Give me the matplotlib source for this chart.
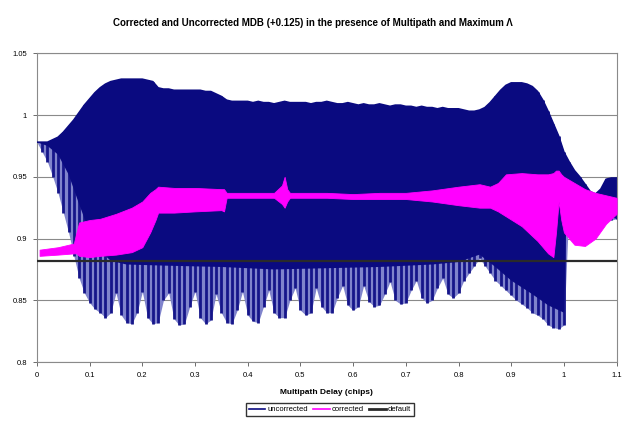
import numpy as np
import matplotlib.pyplot as plt
from matplotlib.lines import Line2D

plt.rcParams["font.family"] = ["Liberation Sans", "DejaVu Sans"]

# uncorrected MDB, read every 0.01 chip: top and bottom of the oscillation
unc_x = np.round(np.arange(0, 1.105, 0.01), 2)
unc_hi = [0.978, 0.978, 0.978, 0.980, 0.982, 0.986, 0.991, 0.996, 1.002, 1.008,
          1.013, 1.018, 1.022, 1.025, 1.027, 1.028, 1.029, 1.029, 1.029, 1.029,
          1.029, 1.028, 1.027, 1.022, 1.021, 1.021, 1.020, 1.020, 1.020, 1.020,
          1.020, 1.020, 1.019, 1.019, 1.017, 1.015, 1.012, 1.011, 1.011, 1.011,
          1.011, 1.010, 1.011, 1.010, 1.010, 1.009, 1.010, 1.011, 1.010, 1.010,
          1.010, 1.010, 1.009, 1.010, 1.010, 1.011, 1.010, 1.009, 1.009, 1.010,
          1.009, 1.008, 1.009, 1.008, 1.008, 1.009, 1.008, 1.007, 1.008, 1.008,
          1.007, 1.007, 1.006, 1.007, 1.006, 1.006, 1.005, 1.006, 1.005, 1.005,
          1.005, 1.004, 1.003, 1.003, 1.004, 1.006, 1.010, 1.015, 1.020, 1.024,
          1.026, 1.026, 1.026, 1.025, 1.023, 1.019, 1.012, 1.003, 0.993, 0.983,
          0.970, 0.962, 0.955, 0.950, 0.944, 0.938, 0.936, 0.940, 0.948, 0.949,
          0.949]
unc_lo = [0.978, 0.970, 0.962, 0.950, 0.937, 0.921, 0.905, 0.886, 0.868, 0.856,
          0.848, 0.843, 0.840, 0.836, 0.840, 0.856, 0.838, 0.832, 0.831, 0.840,
          0.857, 0.836, 0.831, 0.832, 0.850, 0.856, 0.835, 0.830, 0.831, 0.845,
          0.857, 0.836, 0.831, 0.834, 0.855, 0.840, 0.832, 0.831, 0.842, 0.857,
          0.838, 0.833, 0.832, 0.845, 0.858, 0.840, 0.836, 0.836, 0.850, 0.860,
          0.842, 0.838, 0.840, 0.860, 0.845, 0.840, 0.840, 0.852, 0.862, 0.846,
          0.842, 0.845, 0.862, 0.849, 0.845, 0.846, 0.855, 0.865, 0.850, 0.847,
          0.848, 0.858, 0.866, 0.852, 0.848, 0.850, 0.860, 0.868, 0.855, 0.852,
          0.856, 0.866, 0.872, 0.878, 0.884, 0.878, 0.872, 0.866, 0.862, 0.858,
          0.854, 0.850, 0.847, 0.844, 0.840, 0.838, 0.835, 0.830, 0.828, 0.827,
          0.830, 0.930, 0.930, 0.930, 0.930, 0.930, 0.930, 0.928, 0.918, 0.915,
          0.916]

# lower edge of the solid dark part of the uncorrected band
core_x = [0.00, 0.02, 0.04, 0.06, 0.08, 0.10, 0.12, 0.14, 0.17, 0.25, 0.35, 0.45,
          0.55, 0.65, 0.75, 0.80, 0.84, 0.87, 0.90, 0.94, 0.97, 0.99, 1.00, 1.005,
          1.05, 1.08, 1.10]
core_lo = [0.978, 0.975, 0.968, 0.952, 0.928, 0.905, 0.890, 0.882, 0.879, 0.878,
           0.877, 0.875, 0.876, 0.877, 0.879, 0.881, 0.887, 0.877, 0.866, 0.855,
           0.846, 0.842, 0.840, 0.930, 0.930, 0.918, 0.916]

# corrected MDB band
corr_x = [0.005, 0.04, 0.07, 0.075, 0.08, 0.10, 0.12, 0.15, 0.18, 0.20, 0.215, 0.225,
          0.23, 0.26, 0.30, 0.35, 0.355, 0.36, 0.45, 0.465, 0.47, 0.475, 0.48, 0.55,
          0.60, 0.65, 0.70, 0.75, 0.80, 0.84, 0.86, 0.875, 0.89, 0.92, 0.95, 0.97,
          0.98, 0.985, 0.99, 0.995, 1.00, 1.02, 1.04, 1.06, 1.08, 1.10]
corr_hi = [0.891, 0.893, 0.896, 0.905, 0.913, 0.915, 0.916, 0.920, 0.925, 0.930, 0.937, 0.940,
           0.942, 0.941, 0.941, 0.940, 0.940, 0.937, 0.937, 0.943, 0.950, 0.940, 0.937, 0.937,
           0.936, 0.937, 0.937, 0.939, 0.942, 0.944, 0.942, 0.945, 0.952, 0.953, 0.952, 0.952,
           0.953, 0.955, 0.955, 0.952, 0.950, 0.945, 0.940, 0.937, 0.935, 0.933]
corr_lo = [0.886, 0.887, 0.888, 0.888, 0.886, 0.885, 0.886, 0.887, 0.889, 0.893, 0.905, 0.915,
           0.921, 0.921, 0.922, 0.923, 0.922, 0.933, 0.933, 0.928, 0.925, 0.930, 0.933, 0.933,
           0.932, 0.932, 0.932, 0.930, 0.927, 0.925, 0.925, 0.922, 0.918, 0.910, 0.898, 0.888,
           0.885, 0.905, 0.930, 0.915, 0.905, 0.895, 0.894, 0.900, 0.912, 0.920]

default_mdb = 0.882

x_ticks = [0, 0.1, 0.2, 0.3, 0.4, 0.5, 0.6, 0.7, 0.8, 0.9, 1.0, 1.1]
x_labels = ["0", "0.1", "0.2", "0.3", "0.4", "0.5", "0.6", "0.7", "0.8", "0.9", "1", "1.1"]
y_ticks = [0.8, 0.85, 0.9, 0.95, 1.0, 1.05]
y_labels = ["0.8", "0.85", "0.9", "0.95", "1", "1.05"]

navy = "#0a0a80"
magenta = "#ff00ff"

fig = plt.figure(figsize=(6.26, 4.26), dpi=100)
ax = fig.add_axes([0.059, 0.150, 0.926, 0.725])

# uncorrected: light stripes, then the solid dark core on top
ax.fill_between(unc_x, unc_lo, unc_hi, color="#8084cc", lw=0, zorder=2)
ax.vlines(unc_x, unc_lo, unc_hi, color="#16168a", lw=2.0, zorder=3)
ax.fill(np.r_[unc_x, core_x[::-1]], np.r_[unc_hi, core_lo[::-1]],
        color=navy, lw=0, zorder=4)
ax.plot(unc_x, unc_hi, color=navy, lw=1.2, zorder=4)

# corrected
ax.fill_between(corr_x, corr_lo, corr_hi, color=magenta, lw=0.6, edgecolor=magenta, zorder=5)

# default
ax.axhline(default_mdb, color="#2a2a2a", lw=1.6, zorder=6)

ax.set_xlim(0, 1.1)
ax.set_ylim(0.8, 1.05)
ax.set_xticks(x_ticks)
ax.set_xticklabels(x_labels)
ax.set_yticks(y_ticks)
ax.set_yticklabels(y_labels)
ax.tick_params(labelsize=5.5, length=3, width=0.6, color="#555555", pad=4)
ax.yaxis.grid(True, color="#8a8a8a", lw=0.8)
ax.set_axisbelow(True)
for s in ax.spines.values():
    s.set_color("#8a8a8a")
    s.set_linewidth(0.8)

ax.set_xlabel("Multipath Delay (chips)", fontsize=6, fontweight="bold", labelpad=7)
fig.suptitle("Corrected and Uncorrected MDB (+0.125) in the presence of Multipath and Maximum Λ",
             fontsize=7, fontweight="bold", y=0.957)

handles = [Line2D([], [], color=navy, lw=1.2),
           Line2D([], [], color=magenta, lw=1.2),
           Line2D([], [], color="#2a2a2a", lw=2.0)]
fig.legend(handles, ["uncorrected", "corrected", "default"], loc="center",
           bbox_to_anchor=(0.527, 0.038), ncol=3, fontsize=5.5, frameon=True,
           fancybox=False, edgecolor="black", borderpad=0.35, handlelength=2.2,
           handletextpad=0.3, columnspacing=0.6)

fig.savefig("out.png", dpi=100)
